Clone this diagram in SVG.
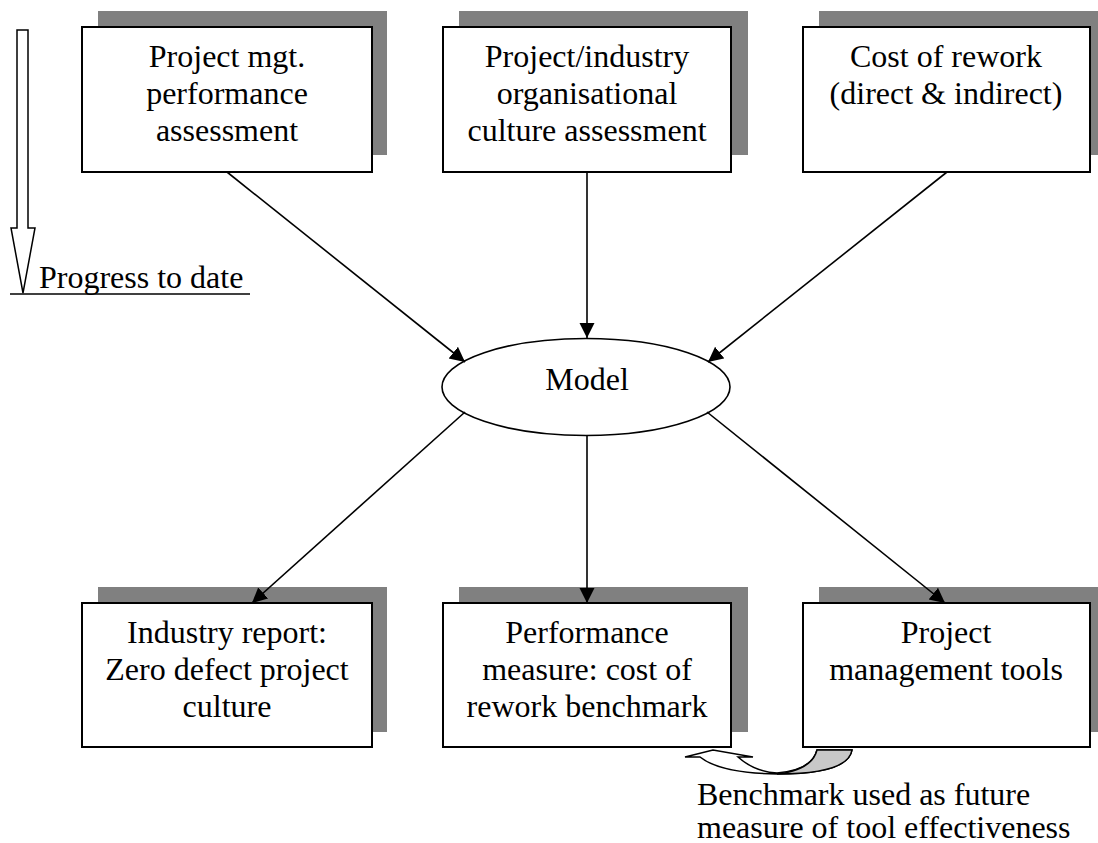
<svg xmlns="http://www.w3.org/2000/svg" width="1098" height="843" viewBox="0 0 1098 843" font-family="'Liberation Serif', 'Times New Roman', Times, serif">
<style>
.shadow{fill:#808080;stroke:none}
.box{fill:#ffffff;stroke:#000000;stroke-width:2}
text{font-family:'Liberation Serif','Times New Roman',Times,serif;font-size:32px;fill:#000000}
.lbl{text-anchor:middle}
.conn{stroke:#000000;stroke-width:1.6;fill:none;marker-end:url(#ah)}
</style>
<defs>
<marker id="ah" markerUnits="userSpaceOnUse" markerWidth="16" markerHeight="16" refX="15" refY="7.5" orient="auto">
<path d="M0,0 L15,7.5 L0,15 Z" fill="#000000"/>
</marker>
</defs>
<rect width="1098" height="843" fill="#ffffff"/>

<g id="progress">
<polygon points="17,30 28,30 28,228 35,228 23,293 11,228 17,228" fill="#ffffff" stroke="#000000" stroke-width="1.5"/>
<line x1="10" y1="294" x2="250" y2="294" stroke="#000000" stroke-width="1.5"/>
<text x="39" y="288" font-family="Liberation Serif, serif">Progress to date</text>
</g>

<g id="n1" font-family="Liberation Serif, serif">
<rect class="shadow" x="98" y="11" width="289" height="144"/>
<rect class="box" x="82" y="27" width="290" height="145"/>
<text class="lbl" x="227" y="67">Project mgt.</text>
<text class="lbl" x="227" y="104">performance</text>
<text class="lbl" x="227" y="141">assessment</text>
</g>

<g id="n2" font-family="Liberation Serif, serif">
<rect class="shadow" x="459" y="11" width="289" height="144"/>
<rect class="box" x="443" y="27" width="288" height="145"/>
<text class="lbl" x="587" y="67">Project/industry</text>
<text class="lbl" x="587" y="104">organisational</text>
<text class="lbl" x="587" y="141">culture assessment</text>
</g>

<g id="n3" font-family="Liberation Serif, serif">
<rect class="shadow" x="819" y="11" width="290" height="144"/>
<rect class="box" x="803" y="27" width="287" height="145"/>
<text class="lbl" x="946" y="67">Cost of rework</text>
<text class="lbl" x="946" y="104">(direct &amp; indirect)</text>
</g>

<g id="model" font-family="Liberation Serif, serif">
<ellipse cx="586" cy="387" rx="144" ry="48.5" fill="#ffffff" stroke="#000000" stroke-width="1.6"/>
<text class="lbl" x="587" y="390">Model</text>
</g>

<g id="n4" font-family="Liberation Serif, serif">
<rect class="shadow" x="98" y="587" width="289" height="145"/>
<rect class="box" x="82" y="603" width="290" height="144"/>
<text class="lbl" x="227" y="643">Industry report:</text>
<text class="lbl" x="227" y="680">Zero defect project</text>
<text class="lbl" x="227" y="717">culture</text>
</g>

<g id="n5" font-family="Liberation Serif, serif">
<rect class="shadow" x="459" y="587" width="289" height="145"/>
<rect class="box" x="443" y="603" width="288" height="144"/>
<text class="lbl" x="587" y="643">Performance</text>
<text class="lbl" x="587" y="680">measure: cost of</text>
<text class="lbl" x="587" y="717">rework benchmark</text>
</g>

<g id="n6" font-family="Liberation Serif, serif">
<rect class="shadow" x="819" y="587" width="290" height="145"/>
<rect class="box" x="803" y="603" width="287" height="144"/>
<text class="lbl" x="946" y="643">Project</text>
<text class="lbl" x="946" y="680">management tools</text>
</g>

<g id="connectors">
<line class="conn" x1="227" y1="172" x2="465" y2="362"/>
<line class="conn" x1="587" y1="172" x2="587" y2="338"/>
<line class="conn" x1="947" y1="172" x2="708" y2="362"/>
<line class="conn" x1="465" y1="412" x2="252" y2="603"/>
<line class="conn" x1="587" y1="435" x2="587" y2="603"/>
<line class="conn" x1="707" y1="412" x2="945" y2="603"/>
</g>

<g id="feedback" font-family="Liberation Serif, serif">
<path d="M852,750 Q848,774 777,774 Q720,773 700,757 L685,757 L713,750 L753,757 L738,757 Q755,772 777,773 Q812,770 817,750 Z" fill="#ffffff" stroke="#000000" stroke-width="1.5"/>
<path d="M817,750 L852,750 Q848,774 777,774 Q812,770 817,750 Z" fill="#c8c8c8" stroke="#000000" stroke-width="1.5"/>
<text x="697" y="805">Benchmark used as future</text>
<text x="697" y="838">measure of tool effectiveness</text>
</g>
</svg>
